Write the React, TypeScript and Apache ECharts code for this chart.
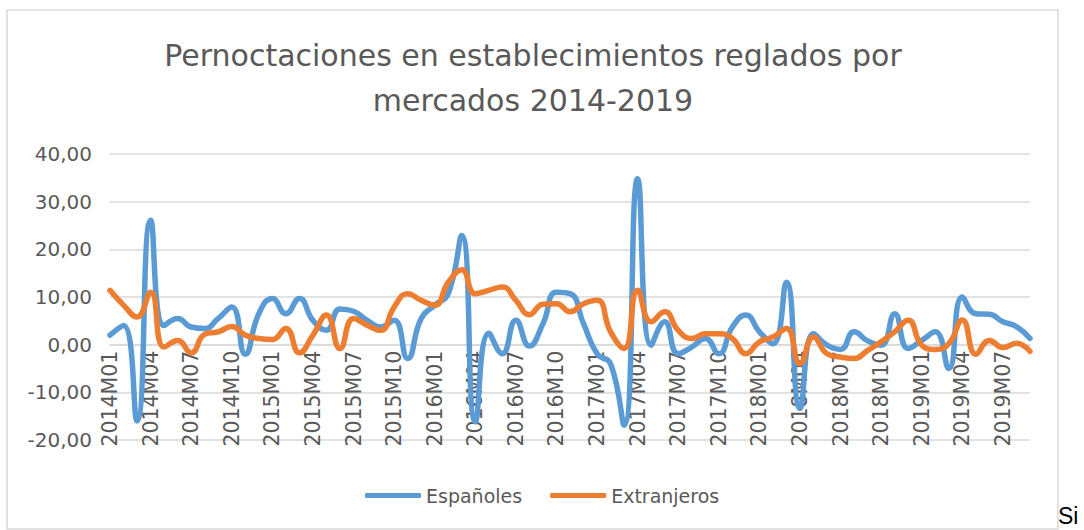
import React, { useEffect, useRef } from "react";
import * as echarts from "echarts";

const categories = [
  "2014M01", "2014M02", "2014M03", "2014M04", "2014M05", "2014M06", "2014M07", "2014M08", "2014M09", "2014M10", "2014M11", "2014M12",
  "2015M01", "2015M02", "2015M03", "2015M04", "2015M05", "2015M06", "2015M07", "2015M08", "2015M09", "2015M10", "2015M11", "2015M12",
  "2016M01", "2016M02", "2016M03", "2016M04", "2016M05", "2016M06", "2016M07", "2016M08", "2016M09", "2016M10", "2016M11", "2016M12",
  "2017M01", "2017M02", "2017M03", "2017M04", "2017M05", "2017M06", "2017M07", "2017M08", "2017M09", "2017M10", "2017M11", "2017M12",
  "2018M01", "2018M02", "2018M03", "2018M04", "2018M05", "2018M06", "2018M07", "2018M08", "2018M09", "2018M10", "2018M11", "2018M12",
  "2019M01", "2019M02", "2019M03", "2019M04", "2019M05", "2019M06", "2019M07", "2019M08", "2019M09",
];

const espanoles = [
  2.0, 4.0, -16.0, 26.1, 4.0, 5.5, 3.7, 3.4, 5.5, 7.9, -2.0, 6.5,
  9.7, 6.5, 9.7, 5.1, 3.0, 7.5, 7.0, 5.1, 3.7, 5.1, -2.9, 5.5,
  8.3, 10.7, 22.9, -16.2, 2.4, -1.9, 5.1, -0.3, 4.4, 11.0, 10.7, 4.4,
  -1.9, -4.0, -16.9, 34.8, -0.1, 4.8, -1.9, -0.5, 1.3, -1.9, 3.7, 6.2,
  2.7, 0.2, 13.1, -13.4, 2.3, -0.1, -1.0, 2.7, 0.8, -0.1, 6.5, -0.8,
  0.9, 2.7, -5.0, 10.0, 6.5, 6.4, 4.8, 3.8, 1.3,
];

const extranjeros = [
  11.4, 8.3, 5.8, 11.0, -0.5, 0.9, -1.7, 2.2, 2.7, 3.8, 2.0, 1.3,
  1.1, 3.4, -1.7, 2.0, 6.2, -0.8, 5.5, 4.1, 3.0, 7.9, 10.7, 9.3,
  8.3, 13.1, 15.7, 10.7, 11.4, 12.1, 9.3, 6.3, 8.5, 8.6, 6.9, 8.6,
  9.3, 2.7, -0.8, 11.4, 4.8, 6.9, 3.0, 1.3, 2.3, 2.3, 1.3, -1.9,
  0.6, 1.6, 3.4, -4.0, 1.6, -1.9, -2.6, -2.9, -1.2, 0.6, 2.7, 5.1,
  -0.1, -1.0, 0.2, 5.2, -2.0, 0.9, -0.6, 0.3, -1.4,
];

const titleLines = ["Pernoctaciones en establecimientos reglados por", "mercados 2014-2019"];
const seriesNames = ["Españoles", "Extranjeros"];

const FONT = "DejaVu Sans";
const TEXT = "#595959";
const GRID = "#d9d9d9";

const Y_MIN = -20;
const Y_MAX = 40;
const GRID_TOP = 154;
const GRID_BOTTOM = 90;
const CHART_H = 530;

export default function App() {
  const ref = useRef<HTMLDivElement>(null);
  useEffect(() => {
    const chart = echarts.init(ref.current!, null, { renderer: "svg" });
    const plotH = CHART_H - GRID_TOP - GRID_BOTTOM;
    // lift the category axis (line + labels) up to the value 0, as in the reference
    const zeroOffset = -(plotH * (0 - Y_MIN)) / (Y_MAX - Y_MIN);
    chart.setOption({
      animation: false,
      backgroundColor: "#ffffff",
      grid: {
        left: 110,
        right: 54,
        top: GRID_TOP,
        bottom: GRID_BOTTOM,
        containLabel: false,
        outerBoundsMode: "none",
      },
      legend: {
        data: seriesNames,
        left: 360,
        top: 481,
        icon: "roundRect",
        itemWidth: 56,
        itemHeight: 5,
        itemGap: 28,
        textStyle: { fontFamily: FONT, fontSize: 19, color: TEXT },
      },
      xAxis: {
        type: "category",
        data: categories,
        boundaryGap: false,
        position: "bottom",
        offset: zeroOffset,
        axisLine: { onZero: false, lineStyle: { color: GRID, width: 1.5 } },
        axisTick: { show: false },
        axisLabel: { rotate: 90, interval: 2, color: TEXT, fontFamily: FONT, fontSize: 20.5, margin: 6 },
        splitLine: { show: false },
      },
      yAxis: {
        type: "value",
        min: Y_MIN,
        max: Y_MAX,
        interval: 10,
        axisLine: { show: false },
        axisTick: { show: false },
        axisLabel: {
          color: TEXT,
          fontFamily: FONT,
          fontSize: 20,
          margin: 18,
          formatter: (v: number) => v.toFixed(2).replace(".", ","),
        },
        splitLine: { lineStyle: { color: GRID, width: 1.5 } },
      },
      series: [
        {
          name: seriesNames[0],
          type: "line",
          data: espanoles,
          smooth: 0.5,
          symbol: "none",
          lineStyle: { color: "#5B9BD5", width: 5.5, cap: "round", join: "round" },
          itemStyle: { color: "#5B9BD5" },
        },
        {
          name: seriesNames[1],
          type: "line",
          data: extranjeros,
          smooth: 0.5,
          symbol: "none",
          lineStyle: { color: "#ED7D31", width: 5.5, cap: "round", join: "round" },
          itemStyle: { color: "#ED7D31" },
        },
      ],
      graphic: [
        {
          type: "rect",
          silent: true,
          z: -10,
          shape: { x: 7, y: 10, width: 1051, height: 519 },
          style: { fill: "none", stroke: GRID, lineWidth: 1.5 },
        },
        {
          type: "text",
          x: 533,
          y: 55,
          style: { text: titleLines[0], align: "center", verticalAlign: "middle", fontFamily: FONT, fontSize: 30, fill: TEXT },
        },
        {
          type: "text",
          x: 533,
          y: 100,
          style: { text: titleLines[1], align: "center", verticalAlign: "middle", fontFamily: FONT, fontSize: 30, fill: TEXT },
        },
        {
          type: "text",
          x: 1058,
          y: 516,
          style: { text: "Si", align: "left", verticalAlign: "middle", fontFamily: "Liberation Sans", fontSize: 23, fill: "#000000" },
        },
      ],
    });
    return () => chart.dispose();
  }, []);
  return (
    <div
      ref={ref}
      style={{ position: "absolute", left: 0, top: 0, width: 1084, height: 530, background: "#ffffff" }}
    />
  );
}
